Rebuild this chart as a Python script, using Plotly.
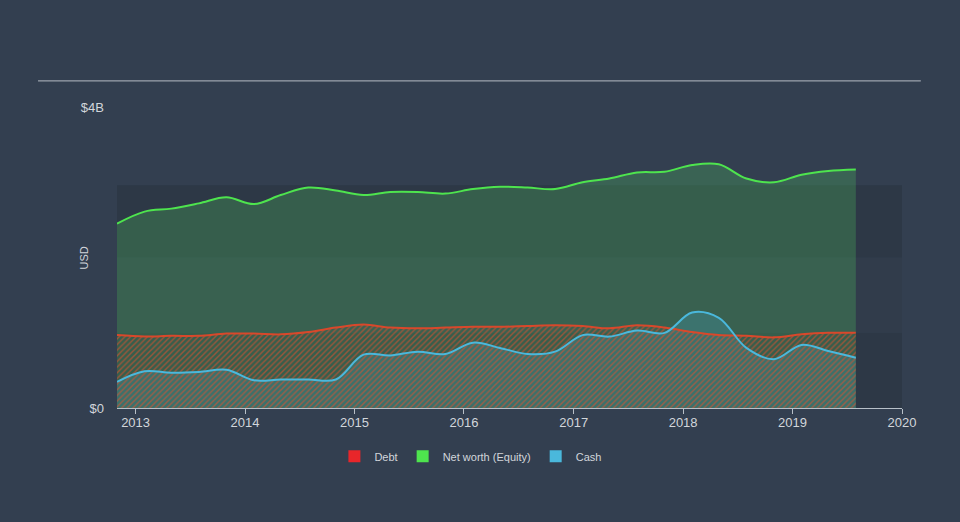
import plotly.graph_objects as go

dates = [
    "2012-10-31", "2013-01-31", "2013-04-30", "2013-07-31", "2013-10-31",
    "2014-01-31", "2014-04-30", "2014-07-31", "2014-10-31",
    "2015-01-31", "2015-04-30", "2015-07-31", "2015-10-31",
    "2016-01-31", "2016-04-30", "2016-07-31", "2016-10-31",
    "2017-01-31", "2017-04-30", "2017-07-31", "2017-10-31",
    "2018-01-31", "2018-04-30", "2018-07-31", "2018-10-31",
    "2019-01-31", "2019-04-30", "2019-07-31",
]
net_worth = [2.45, 2.61, 2.65, 2.72, 2.80, 2.71, 2.83, 2.93, 2.89,
             2.83, 2.87, 2.87, 2.85, 2.91, 2.94, 2.93, 2.91,
             3.00, 3.05, 3.13, 3.14, 3.23, 3.24, 3.05, 3.00,
             3.10, 3.15, 3.17]
debt = [0.97, 0.95, 0.96, 0.96, 0.99, 0.99, 0.98, 1.01, 1.07,
        1.11, 1.07, 1.06, 1.07, 1.08, 1.08, 1.09, 1.10,
        1.09, 1.06, 1.10, 1.07, 1.01, 0.97, 0.96, 0.94,
        0.98, 1.00, 1.00]
cash = [0.35, 0.49, 0.47, 0.48, 0.51, 0.37, 0.38, 0.38, 0.38,
        0.71, 0.70, 0.75, 0.72, 0.87, 0.80, 0.72, 0.75,
        0.97, 0.95, 1.03, 1.00, 1.27, 1.20, 0.80, 0.65,
        0.84, 0.76, 0.67]

B = 1e9
nw_y = [v * B for v in net_worth]
debt_y = [v * B for v in debt]
cash_y = [v * B for v in cash]

BG = "#333f50"
TXT = "#d2d6db"
FONT = "Liberation Sans"
GREEN = "#4ee44e"
RED = "#e8262a"
BLUE = "#4ab8dc"

fig = go.Figure()

fig.add_trace(go.Scatter(x=dates, y=nw_y, mode="lines", line=dict(color=GREEN, width=2, shape="spline"),
                         fill="tozeroy", fillcolor="rgba(80,205,95,0.26)", showlegend=False, hoverinfo="skip"))
fig.add_trace(go.Scatter(x=dates, y=cash_y, mode="lines", line=dict(width=0, shape="spline"),
                         fill="tozeroy", fillcolor="rgba(74,184,220,0.22)", showlegend=False, hoverinfo="skip"))
fig.add_trace(go.Scatter(x=dates, y=debt_y, mode="lines", line=dict(width=0, shape="spline"),
                         fill="tozeroy", fillcolor="rgba(0,0,0,0)",
                         fillpattern=dict(shape="/", fgcolor="#e0502e", fgopacity=0.6,
                                          bgcolor="rgba(0,0,0,0)", size=4, solidity=0.35),
                         showlegend=False, hoverinfo="skip"))
fig.add_trace(go.Scatter(x=dates, y=debt_y, mode="lines", line=dict(color="#d9482b", width=2, shape="spline"),
                         showlegend=False, hoverinfo="skip"))
fig.add_trace(go.Scatter(x=dates, y=cash_y, mode="lines", line=dict(color=BLUE, width=2, shape="spline"),
                         showlegend=False, hoverinfo="skip"))

for name, col in [("Debt", RED), ("Net worth (Equity)", GREEN), ("Cash", BLUE)]:
    fig.add_trace(go.Scatter(x=[None], y=[None], mode="markers", name=name,
                             marker=dict(symbol="square", size=12, color=col)))

x0, x1 = "2012-10-31", "2020-01-01"
shapes = [
    dict(type="rect", xref="x", yref="y", x0=x0, x1=x1, y0=0, y1=1 * B, fillcolor="#2d3846", line_width=0, layer="below"),
    dict(type="rect", xref="x", yref="y", x0=x0, x1=x1, y0=1 * B, y1=2 * B, fillcolor="#313c4b", line_width=0, layer="below"),
    dict(type="rect", xref="x", yref="y", x0=x0, x1=x1, y0=2 * B, y1=2.96 * B, fillcolor="#2d3846", line_width=0, layer="below"),
    dict(type="line", xref="paper", yref="paper", x0=-0.1006, x1=1.024, y0=1.0867, y1=1.0867,
         line=dict(color="#b5bcc4", width=1)),
]

fig.update_layout(
    width=960, height=522,
    margin=dict(l=117, r=58, t=107, b=112),
    paper_bgcolor=BG, plot_bgcolor=BG,
    font=dict(family=FONT, color=TXT, size=12),
    shapes=shapes,
    showlegend=True,
    legend=dict(orientation="h", xref="container", yref="container", x=0.49, y=0.126,
                xanchor="center", yanchor="middle", font=dict(size=11, color=TXT),
                bgcolor="rgba(0,0,0,0)"),
    annotations=[dict(text="USD", xref="paper", yref="paper", x=-0.042, y=0.497, showarrow=False,
                      textangle=-90, font=dict(size=11, color=TXT), xanchor="center", yanchor="middle")],
    xaxis=dict(type="date", range=[x0, x1], showgrid=False, zeroline=False,
               showline=True, linecolor="#b8c0c8", linewidth=1,
               ticks="outside", ticklen=5, tickcolor="#b8c0c8",
               dtick="M12", tick0="2013-01-01", tickformat="%Y",
               ticklabelstandoff=-3,
               tickfont=dict(size=13, color=TXT)),
    yaxis=dict(range=[0, 4 * B], showgrid=False, zeroline=False, showline=False,
               tickvals=[0, 4 * B], ticktext=["$0", "$4B"], ticks="",
               ticklabelstandoff=12, tickfont=dict(size=13, color=TXT)),
    hovermode=False,
)

fig.write_html("out.html")
